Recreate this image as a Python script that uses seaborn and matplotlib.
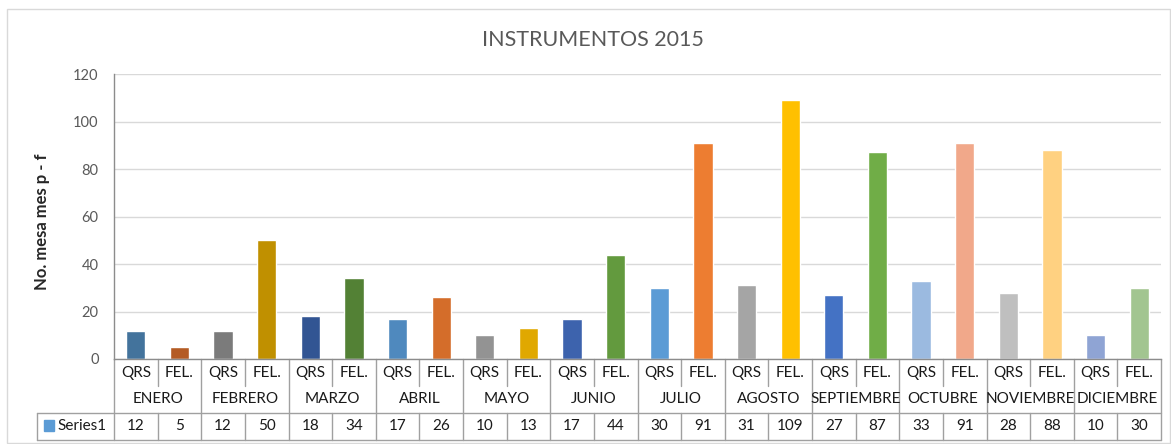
import pandas as pd
import matplotlib.pyplot as plt
import matplotlib.transforms as mtransforms
from matplotlib.patches import Rectangle
import seaborn as sns

# --- Data ---
MONTHS = ['ENERO', 'FEBRERO', 'MARZO', 'ABRIL', 'MAYO', 'JUNIO', 'JULIO',
          'AGOSTO', 'SEPTIEMBRE', 'OCTUBRE', 'NOVIEMBRE', 'DICIEMBRE']
SUBCATS = ['QRS', 'FEL.']
VALUES = [12, 5, 12, 50, 18, 34, 17, 26, 10, 13, 17, 44,
          30, 91, 31, 109, 27, 87, 33, 91, 28, 88, 10, 30]
BAR_COLORS = ['#43739C', '#B45B24', '#7B7B7B', '#C09000', '#325593', '#538135',
              '#4F89BE', '#D46D2A', '#939393', '#E0A800', '#3D63AD', '#639A3E',
              '#5B9BD5', '#ED7D31', '#A5A5A5', '#FFC000', '#4472C4', '#70AD47',
              '#9BBAE0', '#F1A88A', '#BFBFBF', '#FFD181', '#8FA4D4', '#A2C590']
SERIES_NAME = 'Series1'
SERIES_COLOR = '#5B9BD5'

labels = [f'{m} {s}' for m in MONTHS for s in SUBCATS]
df = pd.DataFrame({'label': labels, 'value': VALUES})

# --- Style ---
sns.set_style('white')
plt.rcParams['font.family'] = ['Lato', 'DejaVu Sans']

W, H = 1171, 444
fig = plt.figure(figsize=(W / 100, H / 100), dpi=100)
L, R, T, B = 114, 1161, 74, 359
ax = fig.add_axes([L / W, 1 - B / H, (R - L) / W, (B - T) / H])

sns.barplot(data=df, x='label', y='value', hue='label', palette=BAR_COLORS,
            legend=False, width=0.44, ax=ax, saturation=1)

ax.set_ylim(0, 120)
ax.set_xlim(-0.5, len(VALUES) - 0.5)
ax.set_yticks(range(0, 121, 20))
ax.tick_params(axis='y', length=0, pad=11, labelsize=10.5, labelcolor='#595959')
ax.tick_params(axis='x', length=0, labelbottom=False)
ax.set_xlabel('')
ax.set_ylabel('No. mesa mes p - f', fontsize=12, fontweight='bold')
ax.yaxis.set_label_coords((50 - L) / (R - L), (B - 222) / (B - T))
ax.yaxis.grid(True, color='#D9D9D9', lw=1)
ax.set_axisbelow(True)
for side in ['top', 'right']:
    ax.spines[side].set_visible(False)
for side in ['left', 'bottom']:
    ax.spines[side].set_color('#8C8C8C')
    ax.spines[side].set_linewidth(1)

fig.text(593 / W, 1 - 40 / H, 'INSTRUMENTOS 2015', ha='center', va='center',
         fontsize=15.5, color='#595959')

# --- Data table below the axis ---
tr = mtransforms.blended_transform_factory(ax.transData, ax.transAxes)
ph = B - T
def ay(py):
    return (B - py) / ph

line_kw = dict(color='#A0A0A0', lw=1, clip_on=False)
y_row1, y_row2, y_row3 = ay(386), ay(412.5), ay(440)
n = len(VALUES)
for i in range(n + 1):
    x = i - 0.5
    if i % 2 == 0:
        ax.plot([x, x], [0, y_row3], transform=tr, **line_kw)
    else:
        ax.plot([x, x], [0, y_row1], transform=tr, **line_kw)
        ax.plot([x, x], [y_row2, y_row3], transform=tr, **line_kw)

x_left = (37 - L) / (R - L)
for yy in [y_row2, y_row3]:
    ax.plot([x_left, 1], [yy, yy], transform=ax.transAxes, **line_kw)
ax.plot([x_left, x_left], [y_row2, y_row3], transform=ax.transAxes, **line_kw)

txt_kw = dict(ha='center', va='center', fontsize=11, color='#1A1A1A')
for i, lab in enumerate(labels):
    ax.text(i, ay(373), SUBCATS[i % 2], transform=tr, **txt_kw)
    ax.text(i, ay(426.5), str(VALUES[i]), transform=tr, **txt_kw)
for j, m in enumerate(MONTHS):
    ax.text(2 * j + 0.5, ay(399), m, transform=tr, **txt_kw)

ax.add_patch(Rectangle(((44 - L) / (R - L), ay(431)), 10 / (R - L), 11 / ph,
                       transform=ax.transAxes, color=SERIES_COLOR, clip_on=False))
ax.text((57 - L) / (R - L), ay(426.5), SERIES_NAME, transform=ax.transAxes,
        ha='left', va='center', fontsize=11, color='#1A1A1A')

# chart border
fig.patches.append(Rectangle((7 / W, 1 - 443 / H), 1163 / W, 434 / H,
                             transform=fig.transFigure, fill=False,
                             edgecolor='#D9D9D9', lw=1))

fig.savefig('out.png', dpi=100)
